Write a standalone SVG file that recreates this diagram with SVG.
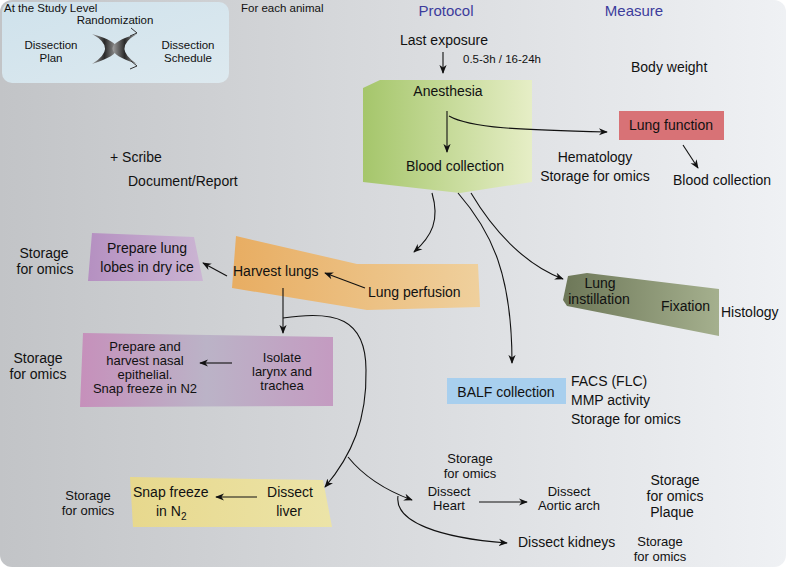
<svg xmlns="http://www.w3.org/2000/svg" width="787" height="568" viewBox="0 0 787 568">
<defs>
<linearGradient id="bg" x1="0" y1="0" x2="1" y2="0"><stop offset="0" stop-color="#c2c4c7"/><stop offset="1" stop-color="#eff1f4"/></linearGradient>
<linearGradient id="study" x1="0" y1="0" x2="1" y2="1"><stop offset="0" stop-color="#cfe2ec"/><stop offset="1" stop-color="#dde9ef"/></linearGradient>
<linearGradient id="green" x1="0" y1="0" x2="1" y2="0"><stop offset="0" stop-color="#a5c66b"/><stop offset="1" stop-color="#e6eec6"/></linearGradient>
<linearGradient id="orange" x1="0" y1="0" x2="1" y2="0"><stop offset="0" stop-color="#e8ad62"/><stop offset="1" stop-color="#efd09d"/></linearGradient>
<linearGradient id="purple" x1="0" y1="0" x2="1" y2="0"><stop offset="0" stop-color="#b590c1"/><stop offset="1" stop-color="#cbb5d3"/></linearGradient>
<linearGradient id="nasal" x1="0" y1="0" x2="1" y2="0"><stop offset="0" stop-color="#c690bb"/><stop offset="0.5" stop-color="#bbb3c7"/><stop offset="1" stop-color="#c49bc1"/></linearGradient>
<linearGradient id="yellow" x1="0" y1="0" x2="1" y2="0"><stop offset="0" stop-color="#e7d88d"/><stop offset="1" stop-color="#ece4a8"/></linearGradient>
<linearGradient id="olive" x1="0" y1="0" x2="1" y2="0"><stop offset="0" stop-color="#6d7758"/><stop offset="1" stop-color="#a5b08e"/></linearGradient>
<linearGradient id="xgrad" x1="0" y1="0" x2="1" y2="0"><stop offset="0" stop-color="#a0a0a0"/><stop offset="0.5" stop-color="#2a2a2a"/><stop offset="1" stop-color="#a0a0a0"/></linearGradient>
<marker id="ah" viewBox="0 0 10 10" refX="9" refY="5" markerWidth="9" markerHeight="9" orient="auto" markerUnits="userSpaceOnUse"><path d="M0,1 L10,5 L0,9 L3,5 Z" fill="#111"/></marker>
<style>
text{font-family:"Liberation Sans",Arial,sans-serif;fill:#111;font-size:14px}
.s{font-size:11.5px}
.m{font-size:13px}
.c{text-anchor:middle}
.hd{font-size:15px;fill:#3c3c9c}
.ln{fill:none;stroke:#111;stroke-width:1.1}
</style>
</defs>
<rect x="0" y="0" width="786" height="567" rx="12" fill="url(#bg)"/>
<g id="study-level">
<rect x="2" y="2" width="227" height="81" rx="10" fill="url(#study)"/>
<text x="4" y="12" class="s">At the Study Level</text>
<text x="115" y="24" class="s c">Randomization</text>
<text x="51" y="49" class="s c">Dissection</text>
<text x="51" y="62" class="s c">Plan</text>
<text x="188" y="49" class="s c">Dissection</text>
<text x="188" y="62" class="s c">Schedule</text>
<path d="M92,34 Q142,48 92,64 Q118,48 92,34 Z" fill="url(#xgrad)"/>
<path d="M137,34 Q88,48 137,64 Q112,48 137,34 Z" fill="url(#xgrad)"/>
<path d="M131,28 L137,33 L130,36 M131,61 L137,66 L130,69" fill="none" stroke="#333" stroke-width="1"/>
</g>
<g id="headers">
<text x="241" y="12" class="s">For each animal</text>
<text x="446" y="16" class="hd c">Protocol</text>
<text x="634" y="16" class="hd c">Measure</text>
</g>
<g id="last-exposure">
<text x="444" y="45" class="c">Last exposure</text>
<text x="463" y="63" class="s">0.5-3h / 16-24h</text>
</g>
<g id="anesthesia">
<polygon points="363,88 380,80 532,80 532,182 460,193 363,182" fill="url(#green)"/>
<text x="448" y="96" class="c">Anesthesia</text>
<text x="455" y="171" class="c">Blood collection</text>
</g>
<g id="measure-top">
<text x="631" y="72">Body weight</text>
<text x="595" y="162" class="c">Hematology</text>
<text x="595" y="181" class="c">Storage for omics</text>
</g>
<g id="lung-function">
<rect x="619" y="111" width="105" height="29" fill="#d87276"/>
<text x="671" y="130" class="c">Lung function</text>
<text x="673" y="185">Blood collection</text>
</g>
<g id="scribe">
<text x="110" y="162">+ Scribe</text>
<text x="128" y="186">Document/Report</text>
</g>
<g id="harvest-lungs">
<polygon points="236,236 357,264 478,264 480,307 367,310 232,288" fill="url(#orange)"/>
<text x="233" y="276">Harvest lungs</text>
<text x="368" y="297">Lung perfusion</text>
</g>
<g id="prepare-lobes">
<polygon points="92,233 194,237 203,281 88,281" fill="url(#purple)"/>
<text x="147" y="253" class="c">Prepare lung</text>
<text x="147" y="272" class="c">lobes in dry ice</text>
<text x="44" y="258" class="c">Storage</text>
<text x="45" y="274" class="c">for omics</text>
</g>
<g id="nasal">
<polygon points="83,333 333,337 333,406 80,407" fill="url(#nasal)"/>
<text x="145" y="351" class="m c">Prepare and</text>
<text x="145" y="365" class="m c">harvest nasal</text>
<text x="145" y="379" class="m c">epithelial.</text>
<text x="145" y="393" class="m c">Snap freeze in N2</text>
<text x="282" y="362" class="m c">Isolate</text>
<text x="282" y="376" class="m c">larynx and</text>
<text x="282" y="390" class="m c">trachea</text>
<text x="38" y="363" class="c">Storage</text>
<text x="38" y="379" class="c">for omics</text>
</g>
<g id="liver">
<polygon points="130,477 323,480 332,527 133,527" fill="url(#yellow)"/>
<text x="133" y="497">Snap freeze</text>
<text x="156" y="516">in N<tspan font-size="10" dy="4">2</tspan></text>
<text x="290" y="497" class="c">Dissect</text>
<text x="289" y="516" class="c">liver</text>
<text x="88" y="500" class="m c">Storage</text>
<text x="88" y="515" class="m c">for omics</text>
</g>
<g id="heart">
<text x="470" y="463" class="m c">Storage</text>
<text x="470" y="478" class="m c">for omics</text>
<text x="449" y="496" class="m c">Dissect</text>
<text x="449" y="510" class="m c">Heart</text>
<text x="569" y="496" class="m c">Dissect</text>
<text x="569" y="510" class="m c">Aortic arch</text>
<text x="675" y="485" class="c">Storage</text>
<text x="675" y="501" class="c">for omics</text>
<text x="672" y="517" class="c">Plaque</text>
</g>
<g id="kidneys">
<text x="518" y="547">Dissect kidneys</text>
<text x="660" y="546" class="m c">Storage</text>
<text x="660" y="561" class="m c">for omics</text>
</g>
<g id="balf">
<rect x="447" y="378" width="119" height="26" fill="#a8cfee"/>
<text x="506" y="397" class="c">BALF collection</text>
<text x="571" y="386">FACS (FLC)</text>
<text x="571" y="405">MMP activity</text>
<text x="571" y="424">Storage for omics</text>
</g>
<g id="instillation">
<polygon points="568,276 587,273 719,289 719,336 567,306 563,300" fill="url(#olive)"/>
<text x="600" y="288" class="c">Lung</text>
<text x="599" y="304" class="c">instillation</text>
<text x="661" y="311">Fixation</text>
<text x="721" y="317">Histology</text>
</g>
<g id="connectors">
<path class="ln" d="M443,52 L443,73" marker-end="url(#ah)"/>
<path class="ln" d="M447,111 L447,152" marker-end="url(#ah)"/>
<path class="ln" d="M449,116 C470,128 520,130 607,132" marker-end="url(#ah)"/>
<path class="ln" d="M683,145 L698,168" marker-end="url(#ah)"/>
<path class="ln" d="M432,193 C440,220 432,236 414,252" marker-end="url(#ah)"/>
<path class="ln" d="M458,193 C492,232 512,275 512,363" marker-end="url(#ah)"/>
<path class="ln" d="M471,193 C496,235 528,266 563,279" marker-end="url(#ah)"/>
<path class="ln" d="M365,288 L325,273" marker-end="url(#ah)"/>
<path class="ln" d="M227,276 L203,263" marker-end="url(#ah)"/>
<path class="ln" d="M283,288 L283,333" marker-end="url(#ah)"/>
<path class="ln" d="M283,318 C335,310 366,318 366,370 C367,420 352,455 325,487" marker-end="url(#ah)"/>
<path class="ln" d="M348,457 C365,478 390,492 412,500" marker-end="url(#ah)"/>
<path class="ln" d="M398,496 C394,522 440,538 507,543" marker-end="url(#ah)"/>
<path class="ln" d="M479,502 L527,502" marker-end="url(#ah)"/>
<path class="ln" d="M232,363 L200,363" marker-end="url(#ah)"/>
<path class="ln" d="M257,497 L216,497" marker-end="url(#ah)"/>
</g>
</svg>
